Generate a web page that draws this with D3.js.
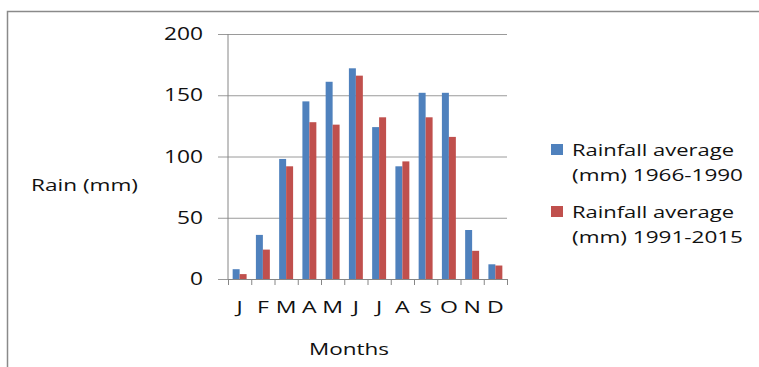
<!DOCTYPE html>
<html>
<head>
<meta charset="utf-8">
<script src="https://cdn.jsdelivr.net/npm/d3@7"></script>
<style>
  body { margin: 0; background: #fff; }
  svg { display: block; }
  text { font-family: "Open Sans", sans-serif; fill: #111; }
</style>
</head>
<body>
<div id="chart"></div>
<script>
// data
const months = ["J", "F", "M", "A", "M", "J", "J", "A", "S", "O", "N", "D"];
const seriesNames = ["Rainfall average (mm) 1966-1990", "Rainfall average (mm) 1991-2015"];
const rain1966 = [8, 36, 98, 145, 161, 172, 124, 92, 152, 152, 40, 12];
const rain1991 = [4, 24, 92, 128, 126, 166, 132, 96, 132, 116, 23, 11];
const yTicks = [0, 50, 100, 150, 200];
const colors = ["#4F81BD", "#C0504D"];

const W = 759, H = 367;
const plot = { left: 228, right: 507, top: 34, bottom: 279 };

const svg = d3.select("#chart").append("svg")
    .attr("width", W)
    .attr("height", H);

// outer chart frame (runs off the right and bottom edge)
svg.append("rect")
    .attr("x", 7.5).attr("y", 11.5)
    .attr("width", W + 20).attr("height", H + 20)
    .attr("fill", "none")
    .attr("stroke", "#8a8a8a")
    .attr("stroke-width", 1.5);

const y = d3.scaleLinear()
    .domain([0, 200])
    .range([plot.bottom, plot.top]);

const x0 = d3.scaleBand()
    .domain(d3.range(months.length))
    .range([plot.left, plot.right])
    .padding(0);

const gap = x0.bandwidth() * 0.2;
const x1 = d3.scaleBand()
    .domain([0, 1])
    .range([gap, x0.bandwidth() - gap]);

// gridlines + y labels
const yAxis = svg.append("g")
    .attr("transform", "translate(218,0)")
    .call(d3.axisLeft(y).tickValues(yTicks).tickSize(-(plot.right - 218)).tickPadding(15));
yAxis.select(".domain").remove();
yAxis.selectAll(".tick line").attr("stroke", "#9a9a9a");
yAxis.selectAll(".tick text")
    .attr("font-size", 17.5)
    .attr("fill", "#111")
    .style("font-family", "'Open Sans', sans-serif")
    .attr("textLength", d => String(d).length * 13)
    .attr("lengthAdjust", "spacingAndGlyphs");

// vertical axis line
svg.append("line")
    .attr("x1", plot.left).attr("x2", plot.left)
    .attr("y1", plot.top).attr("y2", plot.bottom)
    .attr("stroke", "#868686");

// x axis with ticks at category boundaries
const xEdges = d3.scaleLinear().domain([0, months.length]).range([plot.left, plot.right]);
const xAxis = svg.append("g")
    .attr("transform", `translate(0,${plot.bottom})`)
    .call(d3.axisBottom(xEdges).tickValues(d3.range(months.length + 1)).tickSize(6).tickFormat(""));
xAxis.select(".domain").attr("stroke", "#868686");
xAxis.selectAll(".tick line").attr("stroke", "#868686");

// bars
const data = months.map((m, i) => ({ i: i, values: [rain1966[i], rain1991[i]] }));

svg.append("g")
    .selectAll("g")
    .data(data)
    .join("g")
    .attr("transform", d => `translate(${x0(d.i)},0)`)
    .selectAll("rect")
    .data(d => d.values.map((v, k) => ({ k: k, v: v })))
    .join("rect")
    .attr("x", d => x1(d.k))
    .attr("width", x1.bandwidth())
    .attr("y", d => y(d.v))
    .attr("height", d => y(0) - y(d.v))
    .attr("fill", d => colors[d.k]);

// month labels
svg.append("g")
    .selectAll("text")
    .data(months)
    .join("text")
    .attr("transform", (d, i) => `translate(${x0(i) + x0.bandwidth() / 2},313) scale(1.4,1)`)
    .attr("text-anchor", "middle")
    .attr("font-size", 16.5)
    .text(d => d);

// axis titles
svg.append("text")
    .attr("x", 31).attr("y", 191)
    .attr("font-size", 16.5)
    .attr("textLength", 107)
    .attr("lengthAdjust", "spacingAndGlyphs")
    .text("Rain (mm)");

svg.append("text")
    .attr("x", 309).attr("y", 355)
    .attr("font-size", 17)
    .attr("textLength", 80)
    .attr("lengthAdjust", "spacingAndGlyphs")
    .text("Months");

// legend
const legend = svg.append("g");
const legendRows = [
    { lines: ["Rainfall average", "(mm) 1966-1990"], y: 144 },
    { lines: ["Rainfall average", "(mm) 1991-2015"], y: 206 }
];
legendRows.forEach((row, k) => {
    legend.append("rect")
        .attr("x", 551).attr("y", row.y)
        .attr("width", 12).attr("height", 11)
        .attr("fill", colors[k]);
    row.lines.forEach((line, j) => {
        legend.append("text")
            .attr("x", 572)
            .attr("y", row.y + 12 + j * 25)
            .attr("font-size", 17)
            .attr("textLength", j === 0 ? 162 : 171)
            .attr("lengthAdjust", "spacingAndGlyphs")
            .text(line);
    });
});
</script>
</body>
</html>
